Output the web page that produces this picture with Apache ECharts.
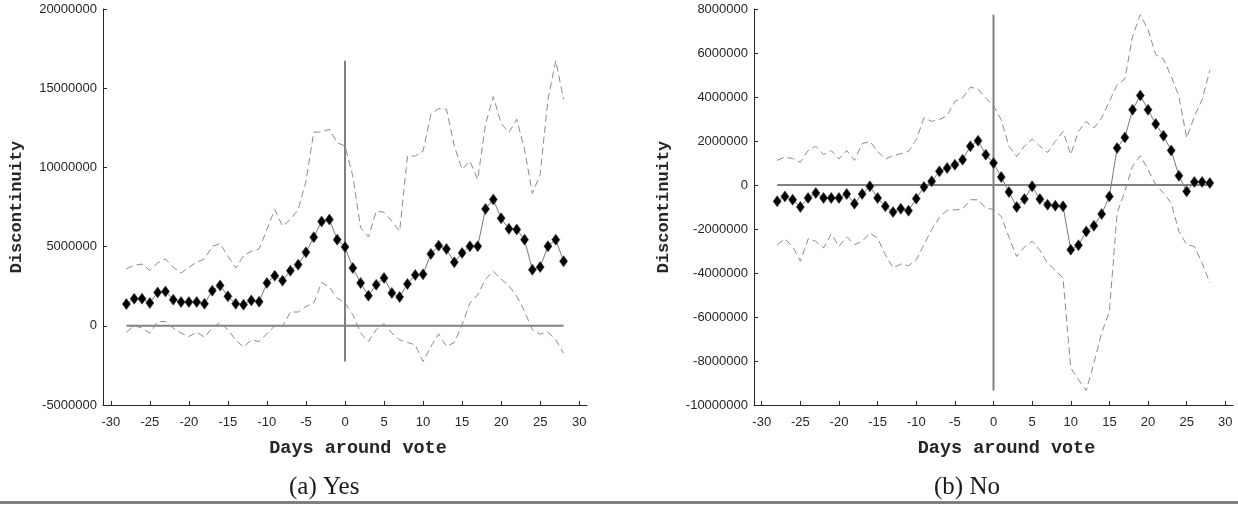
<!DOCTYPE html>
<html>
<head>
<meta charset="utf-8">
<script src="https://cdn.jsdelivr.net/npm/echarts@6/dist/echarts.min.js"></script>
<style>
  html, body { margin: 0; padding: 0; background: #ffffff; }
  #chart { width: 1238px; height: 506px; }
</style>
</head>
<body>
<div id="chart"></div>
<script>
// Days relative to the vote
const days = [-28,-27,-26,-25,-24,-23,-22,-21,-20,-19,-18,-17,-16,-15,-14,-13,-12,-11,-10,-9,-8,-7,-6,-5,-4,-3,-2,-1,
  0,1,2,3,4,5,6,7,8,9,10,11,12,13,14,15,16,17,18,19,20,21,22,23,24,25,26,27,28];

// Panel (a): Yes
const yesEstimate = [1370000,1710000,1710000,1440000,2110000,2170000,1650000,1500000,1500000,1500000,1390000,2220000,2550000,1860000,1390000,1330000,1600000,1520000,2700000,3160000,2850000,3480000,3860000,4640000,5590000,6580000,6710000,5440000,
  4980000,3650000,2700000,1900000,2590000,3020000,2070000,1820000,2640000,3210000,3250000,4540000,5060000,4850000,4010000,4600000,5020000,5020000,7380000,7970000,6790000,6120000,6080000,5440000,3540000,3710000,5020000,5440000,4070000];
const yesUpper = [3590000,3820000,3900000,3500000,3970000,4220000,3690000,3330000,3690000,4010000,4220000,5020000,5190000,4390000,3650000,4430000,4700000,4850000,6080000,7340000,6290000,6710000,7340000,9130000,12230000,12230000,12410000,11560000,
  11350000,9450000,6180000,5610000,7230000,7170000,6600000,5970000,10720000,10720000,11030000,13350000,13710000,13670000,11350000,9870000,10400000,9240000,12720000,14470000,12780000,12200000,13040000,11140000,8350000,9560000,14300000,16730000,14300000];
const yesLower = [-400000,20000,-150000,-460000,270000,270000,-150000,-460000,-680000,-400000,-720000,-150000,210000,-250000,-890000,-1350000,-890000,-990000,-510000,0,-40000,870000,870000,1220000,1430000,2740000,2450000,1750000,
  1450000,700000,-460000,-990000,-250000,130000,-460000,-890000,-1050000,-1200000,-2260000,-1310000,-510000,-1310000,-1050000,60000,1430000,1960000,2950000,3440000,2950000,2530000,1860000,910000,-250000,-530000,-400000,-890000,-1730000];

// Panel (b): No
const noEstimate = [-740000,-520000,-670000,-1000000,-590000,-360000,-590000,-590000,-590000,-410000,-850000,-410000,-60000,-590000,-970000,-1230000,-1080000,-1170000,-620000,-90000,170000,620000,770000,920000,1150000,1760000,2010000,1380000,
  1000000,360000,-320000,-1000000,-640000,-60000,-640000,-900000,-940000,-970000,-2940000,-2740000,-2110000,-1850000,-1320000,-520000,1680000,2160000,3420000,4070000,3420000,2770000,2240000,1570000,420000,-290000,140000,140000,90000];
const noUpper = [1120000,1270000,1200000,1030000,1570000,1760000,1380000,1570000,1180000,1570000,1120000,1880000,1980000,1530000,1180000,1330000,1420000,1530000,2060000,3050000,2890000,2980000,3150000,3800000,3950000,4450000,4360000,3950000,
  3600000,2970000,1760000,1300000,1760000,2090000,1760000,1480000,1980000,2440000,1380000,2440000,2890000,2590000,3050000,3800000,4560000,4820000,6750000,7740000,7060000,5920000,5730000,4940000,4030000,2140000,3120000,3880000,5210000];
const noLower = [-2710000,-2450000,-2790000,-3470000,-2450000,-2560000,-2860000,-2230000,-2790000,-2360000,-2710000,-2560000,-2180000,-2420000,-3170000,-3770000,-3590000,-3670000,-3400000,-2710000,-2030000,-1470000,-1150000,-1130000,-1090000,-670000,-670000,-1050000,
  -1110000,-1430000,-2360000,-3250000,-2820000,-2560000,-2970000,-3550000,-3880000,-4230000,-8320000,-8850000,-9340000,-8090000,-6730000,-5750000,-1270000,-290000,850000,1330000,700000,10000,-360000,-820000,-2110000,-2710000,-2790000,-3550000,-4450000];

// Axis ticks
const xTicks = [-30,-25,-20,-15,-10,-5,0,5,10,15,20,25,30];
const yesYTicks = { min: -5000000, max: 20000000, step: 5000000 };
const noYTicks = { min: -10000000, max: 8000000, step: 2000000 };

const AXIS_COLOR = '#262626';
const REF_COLOR = '#808080';
const LABEL_FONT = 'Liberation Sans';
const NAME_FONT = 'Liberation Mono';

function pairs(xs, ys) { return xs.map((x, i) => [x, ys[i]]); }

function xAxisFor(gridIndex) {
  return {
    type: 'value', gridIndex, min: -31, max: 31,
    name: 'Days around vote', nameLocation: 'middle', nameGap: 34,
    nameTextStyle: { fontFamily: NAME_FONT, fontWeight: 'bold', fontSize: 18.5, color: AXIS_COLOR,
      padding: [0, 0, 0, 26] },
    axisLine: { show: true, onZero: false, lineStyle: { color: AXIS_COLOR, width: 1 } },
    axisTick: { show: true, inside: true, length: 4, customValues: xTicks, lineStyle: { color: AXIS_COLOR } },
    axisLabel: { customValues: xTicks, color: AXIS_COLOR, fontFamily: LABEL_FONT, fontSize: 13, margin: 11 },
    splitLine: { show: false }
  };
}

function yAxisFor(gridIndex, t, gap) {
  return {
    type: 'value', gridIndex, min: t.min, max: t.max, interval: t.step,
    name: 'Discontinuity', nameLocation: 'middle', nameGap: gap, nameRotate: 90,
    nameTextStyle: { fontFamily: NAME_FONT, fontWeight: 'bold', fontSize: 17, color: AXIS_COLOR },
    axisLine: { show: true, onZero: false, lineStyle: { color: AXIS_COLOR, width: 1 } },
    axisTick: { show: true, inside: true, length: 4, lineStyle: { color: AXIS_COLOR } },
    axisLabel: { color: AXIS_COLOR, fontFamily: LABEL_FONT, fontSize: 13, margin: 6, formatter: v => String(v) },
    splitLine: { show: false }
  };
}

function panelSeries(idx, est, upper, lower) {
  const lo = Math.min(...lower);
  const hi = Math.max(...upper);
  const base = { type: 'line', xAxisIndex: idx, yAxisIndex: idx, silent: true, animation: false };
  return [
    // vertical reference at the vote day, spanning the band
    Object.assign({}, base, {
      data: [[0, lo], [0, hi]], symbol: 'none',
      lineStyle: { color: REF_COLOR, width: 2 }, z: 1
    }),
    // horizontal zero reference across the window
    Object.assign({}, base, {
      data: [[days[0], 0], [days[days.length - 1], 0]], symbol: 'none',
      lineStyle: { color: REF_COLOR, width: 2 }, z: 1
    }),
    Object.assign({}, base, {
      data: pairs(days, upper), symbol: 'none',
      lineStyle: { color: '#8c8c8c', width: 1, type: [7, 4] }, z: 2
    }),
    Object.assign({}, base, {
      data: pairs(days, lower), symbol: 'none',
      lineStyle: { color: '#8c8c8c', width: 1, type: [7, 4] }, z: 2
    }),
    Object.assign({}, base, {
      data: pairs(days, est), symbol: 'diamond', symbolSize: [8, 11], showAllSymbol: true,
      lineStyle: { color: '#7a7a7a', width: 1 },
      itemStyle: { color: '#000000', borderColor: '#3a3a3a', borderWidth: 0.6 }, z: 3
    })
  ];
}

const chart = echarts.init(document.getElementById('chart'), null, { renderer: 'canvas' });
chart.setOption({
  animation: false,
  backgroundColor: '#ffffff',
  grid: [
    { left: 103, top: 9, width: 484, height: 396, containLabel: false },
    { left: 754, top: 9, width: 479, height: 396, containLabel: false }
  ],
  xAxis: [xAxisFor(0), xAxisFor(1)],
  yAxis: [yAxisFor(0, yesYTicks, 78), yAxisFor(1, noYTicks, 82)],
  series: [].concat(
    panelSeries(0, yesEstimate, yesUpper, yesLower),
    panelSeries(1, noEstimate, noUpper, noLower)
  ),
  graphic: [
    { type: 'text', left: 289, top: 475,
      style: { text: '(a) Yes', font: '25px "Liberation Serif"', fill: '#1a1a1a' } },
    { type: 'text', left: 934, top: 475,
      style: { text: '(b) No', font: '25px "Liberation Serif"', fill: '#1a1a1a' } },
    { type: 'rect', shape: { x: 0, y: 501, width: 1238, height: 3 }, style: { fill: '#808080' } }
  ]
});
</script>
</body>
</html>
